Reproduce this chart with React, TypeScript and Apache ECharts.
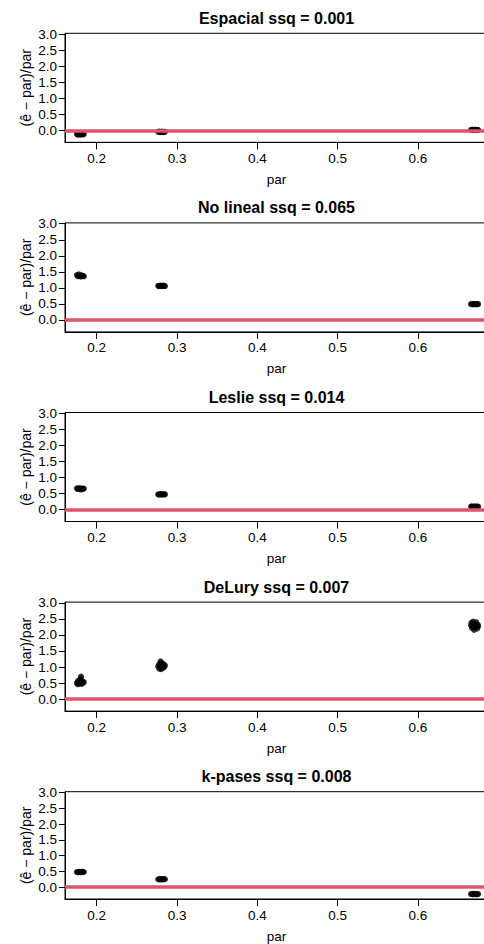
import React, { useEffect, useRef } from "react";
import * as echarts from "echarts";

const titles = [
  "Espacial ssq = 0.001",
  "No lineal ssq = 0.065",
  "Leslie ssq = 0.014",
  "DeLury ssq = 0.007",
  "k-pases ssq = 0.008",
];

const xTicks = [0.2, 0.3, 0.4, 0.5, 0.6];
const yTicks = [0, 0.5, 1, 1.5, 2, 2.5, 3];

const espacial = [
  [0.1752, -0.12], [0.1765, -0.14], [0.1778, -0.13], [0.179, -0.11], [0.1803, -0.14], [0.1815, -0.12], [0.1828, -0.13], [0.184, -0.12],
  [0.2765, -0.05], [0.2778, -0.04], [0.279, -0.06], [0.2803, -0.05], [0.2815, -0.04], [0.2828, -0.06], [0.284, -0.05], [0.285, -0.05],
  [0.666, 0.01], [0.6673, 0.02], [0.6686, 0.0], [0.6699, 0.01], [0.6712, 0.02], [0.6725, 0.0], [0.6738, 0.01], [0.675, 0.01],
];

const noLineal = [
  [0.1752, 1.4], [0.1765, 1.36], [0.1778, 1.42], [0.179, 1.38], [0.1803, 1.35], [0.1815, 1.39], [0.1828, 1.37], [0.184, 1.36],
  [0.2765, 1.06], [0.2778, 1.05], [0.279, 1.07], [0.2803, 1.06], [0.2815, 1.05], [0.2828, 1.07], [0.284, 1.06], [0.285, 1.05],
  [0.666, 0.49], [0.6673, 0.5], [0.6686, 0.48], [0.6699, 0.49], [0.6712, 0.5], [0.6725, 0.48], [0.6738, 0.49], [0.675, 0.49],
];

const leslie = [
  [0.1752, 0.66], [0.1765, 0.63], [0.1778, 0.67], [0.179, 0.65], [0.1803, 0.62], [0.1815, 0.66], [0.1828, 0.64], [0.184, 0.65],
  [0.2765, 0.47], [0.2778, 0.46], [0.279, 0.48], [0.2803, 0.47], [0.2815, 0.46], [0.2828, 0.48], [0.284, 0.47], [0.285, 0.47],
  [0.666, 0.09], [0.6673, 0.1], [0.6686, 0.08], [0.6699, 0.09], [0.6712, 0.1], [0.6725, 0.08], [0.6738, 0.09], [0.675, 0.09],
];

const deLury = [
  [0.1752, 0.5], [0.1765, 0.46], [0.1765, 0.56], [0.1778, 0.52], [0.179, 0.48], [0.179, 0.58], [0.1803, 0.54], [0.1815, 0.47],
  [0.1815, 0.57], [0.1828, 0.51], [0.184, 0.53], [0.1805, 0.7], [0.1798, 0.64],
  [0.2765, 1.02], [0.2778, 0.95], [0.2778, 1.08], [0.279, 1.0], [0.2803, 0.93], [0.2803, 1.12], [0.2815, 1.04], [0.2828, 0.97],
  [0.2828, 1.1], [0.284, 1.01], [0.285, 1.05], [0.2795, 1.18],
  [0.666, 2.3], [0.6665, 2.38], [0.6673, 2.22], [0.6686, 2.42], [0.669, 2.28], [0.6699, 2.16], [0.6712, 2.35], [0.6718, 2.25],
  [0.6725, 2.4], [0.6738, 2.2], [0.6745, 2.32], [0.675, 2.27],
];

const kPases = [
  [0.1752, 0.48], [0.1765, 0.47], [0.1778, 0.49], [0.179, 0.48], [0.1803, 0.47], [0.1815, 0.49], [0.1828, 0.48], [0.184, 0.48],
  [0.2765, 0.25], [0.2778, 0.24], [0.279, 0.26], [0.2803, 0.25], [0.2815, 0.24], [0.2828, 0.26], [0.284, 0.25], [0.285, 0.25],
  [0.666, -0.22], [0.6673, -0.21], [0.6686, -0.23], [0.6699, -0.22], [0.6712, -0.21], [0.6725, -0.23], [0.6738, -0.22], [0.675, -0.22],
];

const panels = [espacial, noLineal, leslie, deLury, kPases];

const X_MIN = 0.1605;
const X_MAX = 0.6872;
const Y_MIN = -0.376;
const Y_MAX = 3.026;

const FONT = "Liberation Sans, Arial, Helvetica, sans-serif";
const RED = "#DF536B";

export default function App() {
  const ref = useRef<HTMLDivElement>(null);
  useEffect(() => {
    if (!ref.current) return;
    const chart = echarts.init(ref.current, null, { renderer: "svg" });
    const tops = [33.3, 222.9, 412.5, 602.1, 791.7];
    const gridH = 109;
    const left = 65;
    const grids: any[] = [];
    const xAxes: any[] = [];
    const yAxes: any[] = [];
    const series: any[] = [];
    const graphics: any[] = [];
    panels.forEach((pts, i) => {
      grids.push({
        left,
        top: tops[i],
        height: gridH,
        right: 0,
        show: true,
        borderColor: "#000",
        borderWidth: 1,
        backgroundColor: "transparent",
      });
      xAxes.push({
        type: "value",
        gridIndex: i,
        min: X_MIN,
        max: X_MAX,
        name: "par",
        nameLocation: "middle",
        nameGap: 30,
        nameMoveOverlap: false,
        nameTextStyle: { color: "#000", fontSize: 13.5, fontFamily: FONT },
        axisLine: { show: true, onZero: false, lineStyle: { color: "#000", width: 1 } },
        axisTick: { show: true, length: 7, customValues: xTicks, lineStyle: { color: "#000" } },
        axisLabel: {
          customValues: xTicks,
          formatter: (v: number) => v.toFixed(1),
          color: "#000",
          fontSize: 13.5,
          fontFamily: FONT,
          margin: 9,
        },
        splitLine: { show: false },
      });
      yAxes.push({
        type: "value",
        gridIndex: i,
        min: Y_MIN,
        max: Y_MAX,
        name: "(ê − par)/par",
        nameLocation: "middle",
        nameRotate: 90,
        nameGap: 32,
        nameMoveOverlap: false,
        nameTextStyle: { color: "#000", fontSize: 14, fontFamily: FONT },
        axisLine: { show: true, onZero: false, lineStyle: { color: "#000", width: 1 } },
        axisTick: { show: true, length: 6, customValues: yTicks, lineStyle: { color: "#000" } },
        axisLabel: {
          customValues: yTicks,
          formatter: (v: number) => v.toFixed(1),
          color: "#000",
          fontSize: 13.5,
          fontFamily: FONT,
          margin: 8,
        },
        splitLine: { show: false },
      });
      series.push({
        type: "line",
        xAxisIndex: i,
        yAxisIndex: i,
        data: [],
        z: 1,
        silent: true,
        markLine: {
          silent: true,
          symbol: "none",
          label: { show: false },
          lineStyle: { color: RED, width: 3.5, type: "solid" },
          data: [{ yAxis: 0 }],
        },
      });
      series.push({
        type: "scatter",
        xAxisIndex: i,
        yAxisIndex: i,
        data: pts,
        symbol: "circle",
        symbolSize: 6,
        itemStyle: { color: "#000" },
        z: 3,
      });
      graphics.push({
        type: "text",
        x: 276.5,
        y: tops[i] - 15,
        style: {
          text: titles[i],
          fontSize: 16,
          fontWeight: "bold",
          fontFamily: FONT,
          fill: "#000",
          align: "center",
          verticalAlign: "middle",
        },
      });
    });
    chart.setOption({
      animation: false,
      backgroundColor: "#fff",
      grid: grids,
      xAxis: xAxes,
      yAxis: yAxes,
      series,
      graphic: graphics,
    });
    return () => chart.dispose();
  }, []);
  return (
    <div style={{ position: "fixed", left: 0, top: 0, width: 484, height: 944, overflow: "hidden", background: "#fff" }}>
      <div ref={ref} style={{ width: 488, height: 944 }} />
    </div>
  );
}
